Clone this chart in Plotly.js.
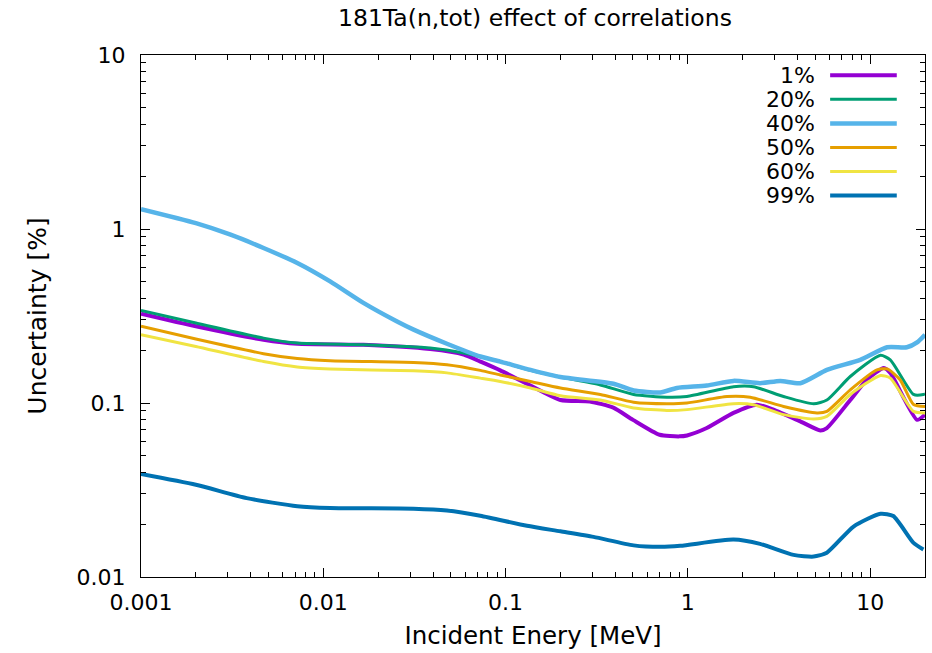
<!DOCTYPE html>
<html>
<head>
<meta charset="utf-8">
<script src="https://cdn.plot.ly/plotly-3.0.1.min.js"></script>
<style>html,body{margin:0;padding:0;background:#fff;}#chart{width:932px;height:653px;}</style>
</head>
<body>
<div id="chart"></div>
<script>
// Series names and colours
const seriesNames = ['1%', '20%', '40%', '50%', '60%', '99%'];
const seriesColors = ['#9400d3', '#009e73', '#56b4e9', '#e69f00', '#f0e442', '#0072b2'];
const seriesWidths = [4, 3, 4.5, 3, 3, 4];

// Incident energy [MeV] / uncertainty [%]
const e1  = [0.001, 0.002, 0.0047, 0.0072, 0.0166, 0.0386, 0.0589, 0.0727, 0.0935, 0.137, 0.2, 0.29, 0.39, 0.5, 0.7, 0.9, 0.99, 1.27, 1.78, 2.39, 2.95, 4.14, 5.33, 5.79, 7.78, 9.6, 11.9, 12.9, 18.1, 20];
const u1  = [0.326, 0.276, 0.231, 0.219, 0.216, 0.204, 0.190, 0.173, 0.154, 0.126, 0.104, 0.102, 0.094, 0.080, 0.0657, 0.0643, 0.0651, 0.0718, 0.0877, 0.0978, 0.0916, 0.0784, 0.0696, 0.0718, 0.104, 0.136, 0.159, 0.149, 0.080, 0.0857];

const e20 = [0.001, 0.002, 0.0047, 0.0072, 0.0166, 0.0386, 0.0589, 0.0935, 0.137, 0.2, 0.331, 0.504, 0.768, 0.989, 1.78, 2.29, 3.35, 4.9, 5.79, 7.78, 11.4, 12.9, 17.3, 19.6, 20];
const u20 = [0.340, 0.288, 0.236, 0.221, 0.216, 0.207, 0.194, 0.173, 0.154, 0.141, 0.127, 0.112, 0.108, 0.109, 0.124, 0.124, 0.109, 0.099, 0.104, 0.142, 0.188, 0.177, 0.112, 0.112, 0.113];

const e40 = [0.001, 0.002, 0.0031, 0.0047, 0.0072, 0.0109, 0.0166, 0.0254, 0.0313, 0.0477, 0.0727, 0.0935, 0.137, 0.2, 0.391, 0.504, 0.706, 0.871, 1.27, 1.78, 2.49, 3.21, 4.14, 5.79, 8.83, 12.4, 15.9, 18.1, 20];
const u40 = [1.30, 1.08, 0.927, 0.778, 0.638, 0.50, 0.376, 0.294, 0.264, 0.219, 0.185, 0.173, 0.155, 0.141, 0.129, 0.118, 0.115, 0.122, 0.126, 0.134, 0.130, 0.134, 0.130, 0.155, 0.177, 0.209, 0.209, 0.223, 0.247];

const e50 = [0.001, 0.002, 0.0047, 0.0072, 0.0109, 0.0313, 0.0477, 0.0727, 0.0935, 0.137, 0.2, 0.331, 0.504, 0.768, 0.989, 1.64, 2.2, 3.35, 5.11, 5.79, 7.78, 10.9, 12.4, 14.6, 17.3, 20];
const u50 = [0.276, 0.233, 0.192, 0.180, 0.175, 0.171, 0.166, 0.154, 0.145, 0.133, 0.122, 0.112, 0.101, 0.099, 0.100, 0.109, 0.108, 0.0955, 0.0877, 0.0895, 0.119, 0.155, 0.157, 0.136, 0.098, 0.0955];

const e60 = [0.001, 0.002, 0.0047, 0.0072, 0.0109, 0.0313, 0.0477, 0.0727, 0.0935, 0.137, 0.2, 0.331, 0.504, 0.768, 0.989, 1.78, 2.29, 3.35, 4.9, 5.79, 7.78, 11.4, 12.9, 17.3, 20];
const u60 = [0.247, 0.211, 0.173, 0.161, 0.157, 0.153, 0.149, 0.139, 0.133, 0.122, 0.110, 0.104, 0.0936, 0.0906, 0.0916, 0.0991, 0.0978, 0.0857, 0.081, 0.0838, 0.112, 0.144, 0.139, 0.0895, 0.0877];

const e99 = [0.001, 0.002, 0.0038, 0.0072, 0.0109, 0.0313, 0.0477, 0.0727, 0.131, 0.2, 0.304, 0.504, 0.706, 0.908, 1.78, 2.49, 3.8, 4.9, 5.79, 8.11, 11.4, 13.4, 17.3, 19.6];
const u99 = [0.0391, 0.0339, 0.0284, 0.0255, 0.0249, 0.0247, 0.0241, 0.0225, 0.0197, 0.0183, 0.0170, 0.0152, 0.0149, 0.0151, 0.0164, 0.0155, 0.0134, 0.0131, 0.0138, 0.0195, 0.0231, 0.0224, 0.0157, 0.0144];

const xTickVals = [0.001, 0.01, 0.1, 1, 10];
const xTickText = ['0.001', '0.01', '0.1', '1', '10'];
const yTickVals = [0.01, 0.1, 1, 10];
const yTickText = ['0.01', '0.1', '1', '10'];

const energies = [e1, e20, e40, e50, e60, e99];
const uncerts = [u1, u20, u40, u50, u60, u99];

function minorTicks(lo, hi) {
  const out = [];
  for (let d = lo; d < hi; d++) {
    for (let k = 2; k <= 9; k++) out.push(k * Math.pow(10, d));
  }
  return out;
}

const FONT = 'DejaVu Sans, Verdana, sans-serif';

const traces = seriesNames.map((n, i) => ({
  x: energies[i], y: uncerts[i], name: n, type: 'scatter', mode: 'lines',
  line: {color: seriesColors[i], width: seriesWidths[i], shape: 'spline', smoothing: 0.6},
  showlegend: false
}));

// custom legend (gnuplot style: text right-aligned, sample line to the right)
const annotations = [];
const shapes = [];
seriesNames.forEach((n, i) => {
  const yy = 0.961 - i * 0.046;
  annotations.push({xref: 'paper', yref: 'paper', x: 0.862, y: yy, xanchor: 'right', yanchor: 'middle',
    text: n, showarrow: false, font: {family: FONT, size: 22, color: '#000'}});
  shapes.push({type: 'line', xref: 'paper', yref: 'paper', x0: 0.879, x1: 0.964, y0: yy, y1: yy,
    line: {color: seriesColors[i], width: seriesWidths[i]}});
});

const axisCommon = {
  type: 'log', showgrid: false, zeroline: false, showline: true, linecolor: '#000', linewidth: 1,
  mirror: 'allticks', ticks: 'inside', ticklen: 9, tickwidth: 1, tickcolor: '#000',
  tickfont: {family: FONT, size: 22, color: '#000'}, tickmode: 'array'
};

const layout = {
  width: 932, height: 653,
  margin: {l: 141, r: 7, t: 55, b: 76},
  paper_bgcolor: '#fff', plot_bgcolor: '#fff',
  title: {text: '181Ta(n,tot) effect of correlations', font: {family: FONT, size: 23.5, color: '#000'},
    x: 0.574, xanchor: 'center', y: 0.973, yanchor: 'middle'},
  xaxis: Object.assign({}, axisCommon, {
    range: [-3, Math.log10(20)], tickvals: xTickVals, ticktext: xTickText,
    minor: {tickmode: 'array', tickvals: minorTicks(-3, 2), ticks: 'inside', ticklen: 5, tickcolor: '#000', tickwidth: 1},
    title: {text: 'Incident Enery [MeV]', font: {family: FONT, size: 24.5, color: '#000'}, standoff: 12},
    ticklabelstandoff: 6
  }),
  yaxis: Object.assign({}, axisCommon, {
    range: [-2, 1], tickvals: yTickVals, ticktext: yTickText,
    minor: {tickmode: 'array', tickvals: minorTicks(-2, 1), ticks: 'inside', ticklen: 5, tickcolor: '#000', tickwidth: 1},
    title: {text: 'Uncertainty [%]', font: {family: FONT, size: 25, color: '#000'}, standoff: 22},
    ticklabelstandoff: 10
  }),
  annotations: annotations,
  shapes: shapes
};

Plotly.newPlot('chart', traces, layout, {displayModeBar: false, staticPlot: true});
</script>
</body>
</html>
